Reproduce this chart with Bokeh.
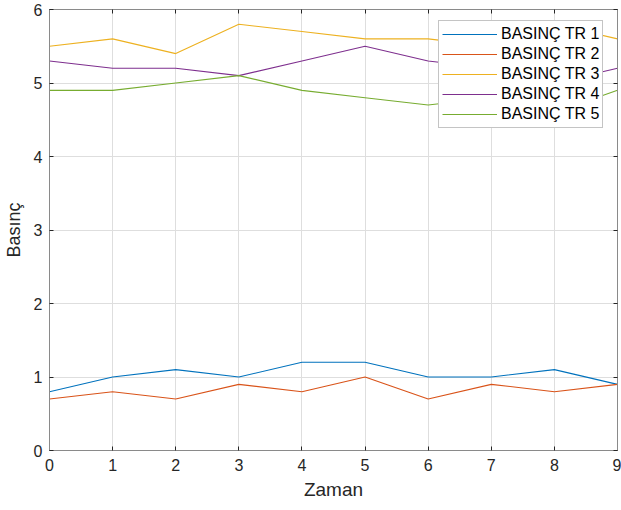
from bokeh.plotting import figure
from bokeh.models import Range1d, LinearAxis, FixedTicker, Legend, LegendItem
from bokeh.embed import file_html
from bokeh.resources import INLINE

# Time steps and pressure readings for the five transmitters
zaman = [0, 1, 2, 3, 4, 5, 6, 7, 8, 9]
tr1 = [0.8, 1.0, 1.1, 1.0, 1.2, 1.2, 1.0, 1.0, 1.1, 0.9]
tr2 = [0.7, 0.8, 0.7, 0.9, 0.8, 1.0, 0.7, 0.9, 0.8, 0.9]
tr3 = [5.5, 5.6, 5.4, 5.8, 5.7, 5.6, 5.6, 5.5, 5.8, 5.6]
tr4 = [5.3, 5.2, 5.2, 5.1, 5.3, 5.5, 5.3, 5.2, 5.0, 5.2]
tr5 = [4.9, 4.9, 5.0, 5.1, 4.9, 4.8, 4.7, 4.8, 4.6, 4.9]

labels = ["BASINÇ TR 1", "BASINÇ TR 2", "BASINÇ TR 3", "BASINÇ TR 4", "BASINÇ TR 5"]
colors = ["#0072BD", "#D95319", "#EDB120", "#7E2F8E", "#77AC30"]
x_ticks = [0, 1, 2, 3, 4, 5, 6, 7, 8, 9]
y_ticks = [0, 1, 2, 3, 4, 5, 6]

FONT = "Liberation Sans"
AXIS_GRAY = "#8a8a8a"
TEXT = "#262626"

p = figure(
    frame_width=568, frame_height=441,
    x_range=Range1d(0, 9), y_range=Range1d(0, 6),
    output_backend="svg", toolbar_location=None,
    min_border_left=49, min_border_right=4, min_border_top=9, min_border_bottom=60,
    x_axis_label="Zaman", y_axis_label="Basınç",
)
p.background_fill_color = "white"
p.border_fill_color = "white"
p.outline_line_color = AXIS_GRAY
p.outline_line_width = 1

for ax in (p.xaxis[0], p.yaxis[0]):
    ax.axis_line_color = AXIS_GRAY
    ax.major_tick_line_color = TEXT
    ax.major_tick_in = 4
    ax.major_tick_out = 0
    ax.minor_tick_line_color = None
    ax.major_label_text_font = FONT
    ax.major_label_text_font_size = "16px"
    ax.major_label_text_color = TEXT
    ax.axis_label_text_font = FONT
    ax.axis_label_text_font_style = "normal"
    ax.axis_label_text_color = TEXT

p.xaxis[0].axis_label_text_font_size = "19px"
p.yaxis[0].axis_label_text_font_size = "18px"
p.xaxis[0].ticker = FixedTicker(ticks=x_ticks)
p.yaxis[0].ticker = FixedTicker(ticks=y_ticks)
p.xaxis[0].major_label_standoff = 8
p.xaxis[0].axis_label_standoff = 5
p.yaxis[0].major_label_standoff = 7
p.yaxis[0].axis_label_standoff = 7

# Box ticks on the top and right edges, without labels
top = LinearAxis(ticker=FixedTicker(ticks=x_ticks),
                 major_label_overrides={t: "" for t in x_ticks})
right = LinearAxis(ticker=FixedTicker(ticks=y_ticks),
                   major_label_overrides={t: "" for t in y_ticks})
for ax in (top, right):
    ax.axis_line_color = AXIS_GRAY
    ax.major_tick_line_color = TEXT
    ax.major_tick_in = 4
    ax.major_tick_out = 0
    ax.minor_tick_line_color = None
    ax.major_label_standoff = 0
p.add_layout(top, "above")
p.add_layout(right, "right")

p.xgrid.ticker = FixedTicker(ticks=x_ticks)
p.ygrid.ticker = FixedTicker(ticks=y_ticks)
p.grid.grid_line_color = "#dedede"
p.grid.grid_line_width = 1

series = [tr1, tr2, tr3, tr4, tr5]
items = []
for vals, lab, col in zip(series, labels, colors):
    r = p.line(zaman, vals, line_color=col, line_width=1.1)
    items.append(LegendItem(label=lab, renderers=[r]))

legend = Legend(
    items=items, location=(389, 322),
    label_text_font=FONT, label_text_font_size="16px", label_text_color="#000000",
    label_height=20, glyph_height=20, glyph_width=55, label_standoff=4,
    spacing=0, padding=3, margin=0,
    border_line_color=AXIS_GRAY, border_line_width=1,
    background_fill_color="white", background_fill_alpha=1.0,
)
p.add_layout(legend, "center")

open("out.html", "w").write(file_html(p, INLINE))
